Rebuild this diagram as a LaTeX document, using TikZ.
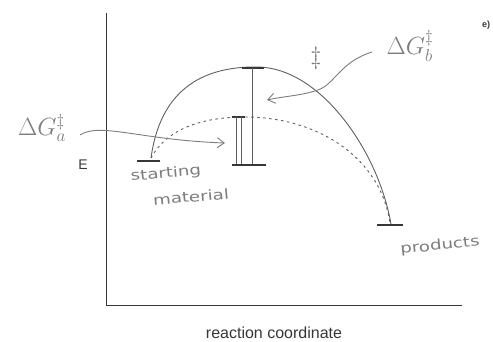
\documentclass[tikz,border=0pt]{standalone}
\usepackage{amsmath,amssymb}
\usepackage{fontspec}
\setsansfont{Liberation Sans}
\newfontfamily\handfont{DejaVu Sans}
\usepackage{tikz}
\usetikzlibrary{arrows.meta}
\definecolor{axisgray}{RGB}{55,55,55}
\definecolor{pengray}{RGB}{95,95,95}
\definecolor{handgray}{RGB}{125,125,125}

\tikzset{
  axisline/.style={axisgray,line width=1pt},
  pen/.style={pengray,line width=0.9pt},
  levelbar/.style={axisgray,line width=1.4pt},
  handtext/.style={handgray,font=\handfont\fontsize{14}{16}\selectfont,inner sep=0pt},
  handmath/.style={handgray,font=\fontsize{23}{25}\selectfont,inner sep=1pt},
  handarrow/.style={handgray,line width=0.9pt,-{Straight Barb[length=7pt,width=10pt]}}
}

\begin{document}
\begin{tikzpicture}[x=1pt,y=-1pt]
    \useasboundingbox (0,0) rectangle (493,342);

    % Axes
    \draw[axisline] (106,13) -- (106,305) -- (462,305);
    \node[axisgray,font=\sffamily\fontsize{14}{16}\selectfont] (elabel) at (83,165) {E};
    \node[axisgray,font=\sffamily\fontsize{16}{18}\selectfont] (xlabel) at (274,333) {reaction coordinate};
    \node[axisgray,font=\sffamily\bfseries\fontsize{9}{10}\selectfont] (part) at (486,25) {e)};

    % Energy levels
    \draw[levelbar] (137,161) -- (160,161);
    \draw[levelbar] (377,225) -- (403,225);

    % Uncatalysed path (solid) and path b (dashed)
    \draw[pen] (151,158) .. controls (160,92) and (200,66) .. (258,67)
                         .. controls (320,68) and (378,150) .. (391,224);
    \draw[pen,dash pattern=on 2.5pt off 3.5pt] (151,158) .. controls (166,130) and (200,117) .. (245,117)
                         .. controls (320,117) and (382,160) .. (390,224);

    % Barrier heights
    \draw[levelbar] (242,68) -- (264,68);
    \draw[pen] (252,68) -- (252,165);
    \draw[levelbar] (232,117) -- (245,117);
    \draw[pen] (236,117) -- (236,165);
    \draw[pen] (241,117) -- (241,165);
    \draw[levelbar] (232,165) -- (266,165);

    % Labels
    \node[handmath] (dGa) at (42,128) {$\Delta G^{\ddagger}_{a}$};
    \node[handmath] (dGb) at (410,46) {$\Delta G^{\ddagger}_{b}$};
    \node[handmath] (dagb) at (316,58) {$\ddagger$};
    \node[handtext,rotate=5,xscale=1.3] (smA) at (166,174) {starting};
    \node[handtext,rotate=5,xscale=1.3] (smB) at (191,197) {material};
    \node[handtext,rotate=6,xscale=1.3] (prod) at (440,246) {products};

    % Pointers
    \coordinate (aTip) at (225,143);
    \coordinate (bTip) at (267,100);
    \draw[handarrow] (80,135) .. controls (100,122) and (140,140) .. (aTip);
    \draw[handarrow] (372,52) .. controls (340,62) and (335,84) .. (318,90)
                              .. controls (300,96) and (285,96) .. (bTip);
\end{tikzpicture}
\end{document}
